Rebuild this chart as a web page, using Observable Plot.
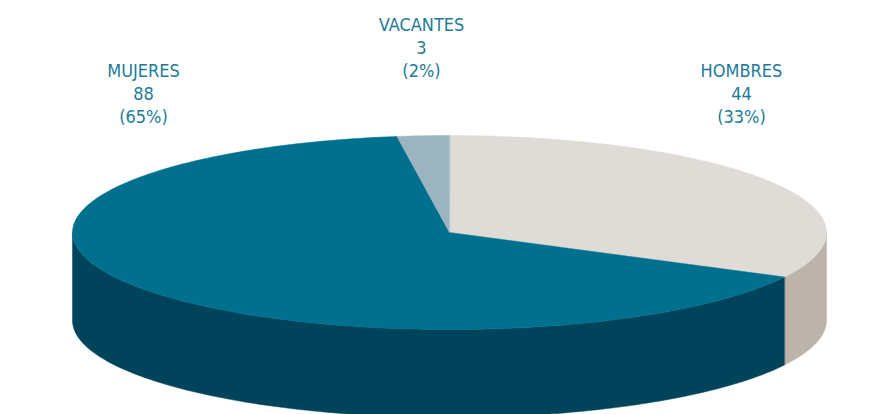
<!DOCTYPE html>
<html>
<head>
<meta charset="utf-8">
<script src="https://cdn.jsdelivr.net/npm/d3@7"></script>
<script src="https://cdn.jsdelivr.net/npm/@observablehq/plot@0.6"></script>
<style>
  html, body { margin: 0; padding: 0; background: #ffffff; }
  #chart svg { display: block; }
</style>
</head>
<body>
<div id="chart"></div>
<script>
// ---- data ----
const categories = ["HOMBRES", "MUJERES", "VACANTES"];
const values = [44, 88, 3];

// ---- styles ----
const topColors  = ["#dfdcd7", "#00708e", "#9bb4c0"];
const sideColors = ["#bcb4ab", "#00445c", "#7c97a4"];
const textColor = "#1d7b98";
const fontFamily = "'Liberation Sans Narrow', 'DejaVu Sans Condensed', 'Arial Narrow', sans-serif";

// ---- layout (pixels) ----
const W = 876, H = 414;
const cx = 449, cy = 232, rx = 377, ry = 97, depth = 88;
const labelPos = [[741, 92], [143, 92], [421, 46]];

const total = d3.sum(values);
const rad = a => a * Math.PI / 180;
const pt = (a, dy = 0) => ({x: cx + rx * Math.cos(rad(a)), y: cy - ry * Math.sin(rad(a)) + dy});
function arc(a0, a1, dy = 0) {
  const n = Math.max(2, Math.ceil(Math.abs(a1 - a0) / 1));
  return d3.range(n + 1).map(i => pt(a0 + (a1 - a0) * i / n, dy));
}

let cum = 0;
const slices = values.map((v, i) => {
  const a0 = 90 - 360 * cum / total;
  const a1 = a0 - 360 * v / total;
  cum += v;
  return {i, a0, a1};
});

const marks = [];
// side walls (front half: angles in [-180,0] mod 360)
for (const s of slices) {
  for (const k of [0, -360]) {
    const lo = Math.max(s.a1, -180 + k), hi = Math.min(s.a0, 0 + k);
    if (hi > lo) {
      const poly = [...arc(hi, lo, 0), ...arc(lo, hi, depth)];
      marks.push(Plot.line(poly, {x: "x", y: "y", fill: sideColors[s.i], stroke: sideColors[s.i], strokeWidth: 0.5, curve: "linear-closed"}));
    }
  }
}
// top faces
for (const s of slices) {
  const poly = [{x: cx, y: cy}, ...arc(s.a0, s.a1, 0)];
  marks.push(Plot.line(poly, {x: "x", y: "y", fill: topColors[s.i], stroke: topColors[s.i], strokeWidth: 0.5, curve: "linear-closed"}));
}
// labels
const labels = categories.map((c, i) => ({
  x: labelPos[i][0], y: labelPos[i][1],
  text: `${c}\n${values[i]}\n(${Math.round(100 * values[i] / total)}%)`
}));
marks.push(Plot.text(labels, {x: "x", y: "y", text: "text", fill: textColor, fontSize: 18, lineHeight: 1.3, fontFamily}));

const chart = Plot.plot({
  width: W, height: H,
  margin: 0,
  x: {domain: [0, W], range: [0, W], axis: null},
  y: {domain: [0, H], range: [0, H], axis: null},
  style: {background: "#ffffff", fontFamily},
  marks
});
document.getElementById("chart").appendChild(chart);
</script>
</body>
</html>
